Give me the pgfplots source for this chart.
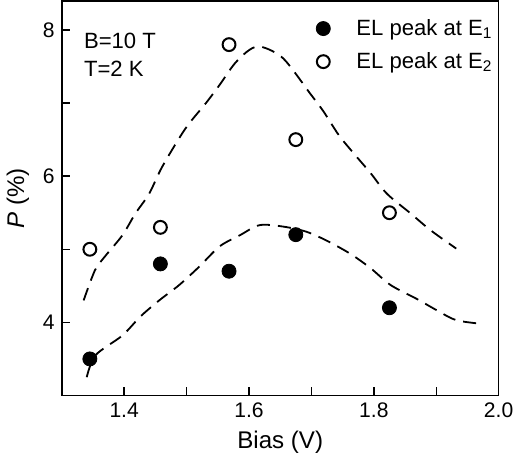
\documentclass[border=0pt]{standalone}
\usepackage{pgfplots}
\pgfplotsset{compat=1.18}
\usepackage{fontspec}
\setmainfont{Liberation Sans}

\begin{document}
\begin{tikzpicture}
\begin{axis}[
  width=217.5pt, height=196.5pt, scale only axis,
  xmin=1.3, xmax=2.0, ymin=3, ymax=8.4,
  xtick={1.4,1.6,1.8,2.0}, minor xtick={1.3,1.5,1.7,1.9},
  ytick={4,6,8}, minor ytick={3,5,7},
  xticklabel style={/pgf/number format/.cd, fixed, fixed zerofill, precision=1},
  /pgf/number format/assume math mode=true,
  tick pos=left, tick align=inside,
  major tick length=4pt, minor tick length=4pt,
  axis line style={line width=0.75pt},
  every tick/.style={black, line width=0.7pt},
  tick label style={font=\fontsize{10.5}{12}\selectfont},
  label style={font=\fontsize{12}{14}\selectfont},
  xlabel={Bias (V)}, ylabel={\textit{P} (\%)},
  legend style={draw=none, fill=none, at={(1.01,0.975)}, anchor=north east,
    font=\fontsize{11}{13}\selectfont, row sep=3pt},
  legend cell align=left,
]
% dashed guide lines
\addplot[black, line width=0.9pt, dash pattern=on 6.5pt off 4pt, smooth, forget plot] coordinates {
  (1.335,4.30)(1.353,4.71)(1.369,4.90)(1.397,5.19)(1.418,5.49)(1.440,5.76)
  (1.461,6.13)(1.498,6.65)(1.531,7.00)(1.553,7.25)(1.577,7.54)(1.601,7.73)
  (1.620,7.77)(1.655,7.61)(1.698,7.13)(1.719,6.89)(1.744,6.56)(1.768,6.31)
  (1.795,6.04)(1.821,5.76)(1.859,5.49)(1.891,5.26)(1.932,5.01)
};
\addplot[black, line width=0.9pt, dash pattern=on 6.5pt off 4pt, smooth, forget plot] coordinates {
  (1.340,3.25)(1.354,3.55)(1.397,3.82)(1.426,4.08)(1.456,4.30)(1.488,4.51)
  (1.520,4.76)(1.553,5.04)(1.585,5.19)(1.617,5.33)(1.655,5.31)(1.692,5.24)
  (1.724,5.12)(1.762,4.94)(1.795,4.74)(1.827,4.51)(1.869,4.32)(1.902,4.16)
  (1.932,4.03)(1.973,3.98)
};
% data
\addplot[only marks, mark=*, mark size=3.5pt, mark options={fill=black, draw=black}] coordinates {
  (1.345,3.5)(1.458,4.8)(1.568,4.7)(1.675,5.2)(1.825,4.2)
};
\addlegendentry{\hspace{11pt}EL peak at E\textsubscript{1}}
\addplot[only marks, mark=o, mark size=3.2pt, mark options={draw=black, fill=white, line width=1pt}] coordinates {
  (1.345,5.0)(1.458,5.3)(1.568,7.8)(1.675,6.5)(1.825,5.5)
};
\addlegendentry{\hspace{11pt}EL peak at E\textsubscript{2}}

\node[anchor=north west, align=left, font=\fontsize{11}{14}\selectfont, inner sep=0pt]
  at (rel axis cs:0.05,0.92) {B=10 T\\T=2 K};
\end{axis}
\end{tikzpicture}
\end{document}
